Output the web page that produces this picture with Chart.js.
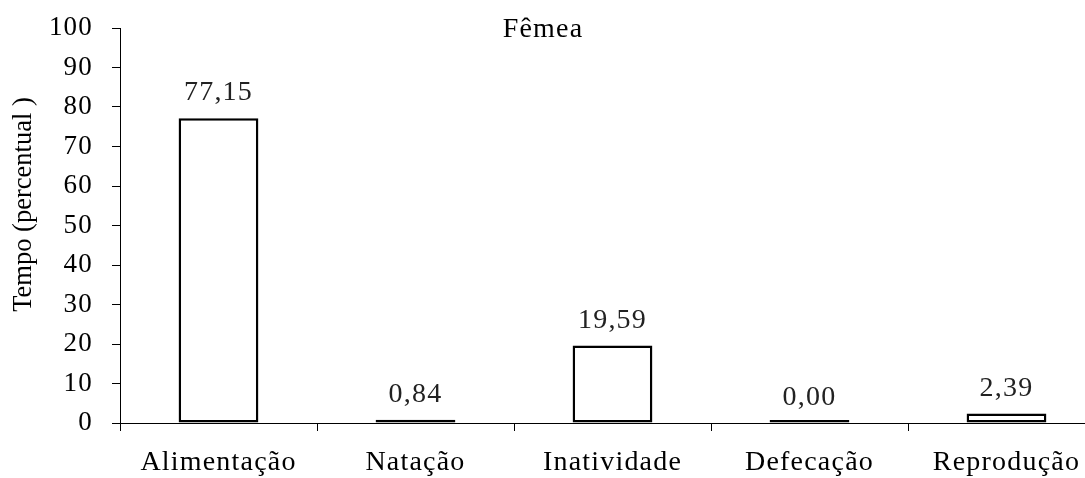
<!DOCTYPE html>
<html>
<head>
<meta charset="utf-8">
<script src="https://cdn.jsdelivr.net/npm/chart.js@4/dist/chart.umd.min.js"></script>
<style>
  html, body { margin: 0; padding: 0; background: #fff; overflow: hidden; }
  #wrap { width: 1110px; height: 478px; }
</style>
</head>
<body>
<div id="wrap"><canvas id="c" width="1110" height="478"></canvas></div>
<script>
// Behaviour categories and time share (%) for females
const categories = ['Alimentação', 'Natação', 'Inatividade', 'Defecação', 'Reprodução'];
const femeaValues = [77.15, 0.84, 19.59, 0.00, 2.39];
const yMin = 0, yMax = 100, yStep = 10;
const chartTitle = 'Fêmea';
const yAxisTitle = 'Tempo (percentual )';

const SERIF = "'Liberation Serif', 'Times New Roman', serif";
const SPACING = '1.2px';

const fmt = v => v.toFixed(2).replace('.', ',');

// Wide serif lettering for all chart text
const spacingPlugin = {
  id: 'spacing',
  beforeUpdate(chart) { chart.ctx.letterSpacing = SPACING; },
  beforeDraw(chart) { chart.ctx.letterSpacing = SPACING; }
};

// Title, rotated axis title and value labels over each bar
const textPlugin = {
  id: 'texts',
  afterDraw(chart) {
    const ctx = chart.ctx;
    ctx.save();
    ctx.fillStyle = '#000';
    ctx.font = '28px ' + SERIF;
    ctx.textAlign = 'center';
    ctx.textBaseline = 'alphabetic';
    ctx.letterSpacing = SPACING;
    ctx.fillText(chartTitle, 543, 36.5);

    // value labels
    ctx.fillStyle = '#222';
    const meta = chart.getDatasetMeta(0);
    meta.data.forEach((bar, i) => {
      const v = chart.data.datasets[0].data[i];
      const top = chart.scales.y.getPixelForValue(v);
      ctx.fillText(fmt(v), bar.x, top - 18);
    });

    // y axis title
    ctx.fillStyle = '#000';
    ctx.letterSpacing = '0px';
    ctx.font = '26.5px ' + SERIF;
    const yc = (chart.chartArea.top + chart.chartArea.bottom) / 2 - 21;
    ctx.translate(31, yc);
    ctx.rotate(-Math.PI / 2);
    ctx.fillText(yAxisTitle, 0, 0);
    ctx.restore();
  }
};

new Chart(document.getElementById('c'), {
  type: 'bar',
  data: {
    labels: categories,
    datasets: [{
      data: femeaValues,
      backgroundColor: '#ffffff',
      borderColor: '#000000',
      borderWidth: 2.5,
      borderSkipped: false,
      minBarLength: 3,
      categoryPercentage: 1,
      barPercentage: 0.405
    }]
  },
  options: {
    responsive: false,
    animation: false,
    layout: { padding: { top: 28, right: 5, bottom: 0, left: 0 } },
    plugins: {
      legend: { display: false },
      tooltip: { enabled: false },
      title: { display: false }
    },
    scales: {
      x: {
        grid: {
          offset: true,
          drawOnChartArea: false,
          drawTicks: true,
          tickLength: 8,
          color: '#000',
          lineWidth: 1
        },
        border: { display: true, color: '#000', width: 1 },
        ticks: {
          color: '#000',
          font: { family: SERIF, size: 28 },
          padding: 15,
          maxRotation: 0,
          autoSkip: false
        },
        afterFit(scale) { scale.height = 55; }
      },
      y: {
        min: yMin,
        max: yMax,
        grid: {
          drawOnChartArea: false,
          drawTicks: true,
          tickLength: 8,
          color: '#000',
          lineWidth: 1
        },
        border: { display: true, color: '#000', width: 1 },
        ticks: {
          stepSize: yStep,
          color: '#000',
          font: { family: SERIF, size: 27 },
          padding: 19
        },
        afterFit(scale) {
          scale.width = 120;
          scale.paddingTop = 0;
          scale.paddingBottom = 0;
        }
      }
    }
  },
  plugins: [spacingPlugin, textPlugin]
});
</script>
</body>
</html>
